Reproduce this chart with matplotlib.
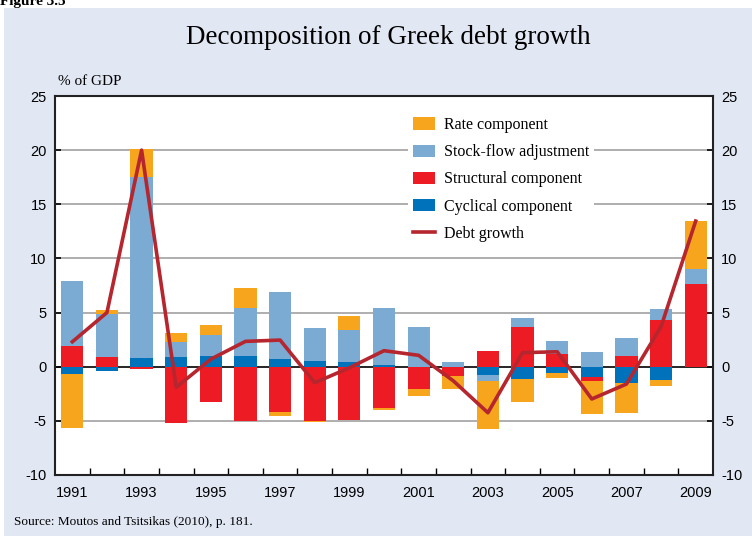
import numpy as np
import matplotlib.pyplot as plt
from matplotlib.patches import Rectangle, Patch
from matplotlib.lines import Line2D

plt.rcParams["axes.unicode_minus"] = False

# data (% of GDP)
years = list(range(1991, 2010))
cyclical = [-0.68, -0.37, 0.83, 0.90, 0.98, 0.98, 0.70, 0.52, 0.43, 0.12,
            0.0, 0.0, -0.77, -1.14, -0.58, -0.92, -1.48, -1.23, 0.0]
structural = [1.90, 0.90, -0.18, -5.17, -3.23, -5.00, -4.18, -5.00, -4.92, -3.78,
              -2.06, -0.86, 1.45, 3.66, 1.17, -0.37, 0.98, 4.30, 7.63]
stock_flow = [6.00, 3.96, 16.70, 1.40, 1.94, 4.43, 6.20, 3.05, 2.99, 5.30,
              3.66, 0.43, -0.55, 0.83, 1.20, 1.35, 1.66, 1.00, 1.39]
rate = [-4.95, 0.37, 2.60, 0.80, 0.93, 1.85, -0.37, -0.10, 1.26, -0.22,
        -0.65, -1.20, -4.40, -2.09, -0.44, -3.05, -2.77, -0.52, 4.43]
debt_growth = [2.3, 5.0, 20.0, -1.9, 0.7, 2.34, 2.46, -1.48, -0.1, 1.48,
               1.05, -1.3, -4.25, 1.3, 1.38, -2.98, -1.6, 3.7, 13.45]
year_labels = [str(y) for y in range(1991, 2010, 2)]

col_rate = "#F7A51C"
col_sf = "#7BAAD3"
col_struct = "#ED1C24"
col_cyc = "#0072BC"
col_debt = "#B5262E"

fig = plt.figure(figsize=(7.52, 5.36), dpi=100, facecolor="white")
# light blue panel behind the chart
fig.patches.append(Rectangle((4 / 752, 0), 1, 1 - 8 / 536, transform=fig.transFigure,
                             facecolor="#E1E8F4", edgecolor="none", zorder=-10))
fig.text(0.0, 1 - 5 / 536, "Figure 3.5", fontsize=11, fontweight="bold",
         family="Liberation Serif", va="baseline", ha="left")

ax = fig.add_axes([55 / 752, 1 - 475 / 536, (713 - 55) / 752, (475 - 96) / 536])
ax.set_facecolor("white")

# stack positives and negatives separately, from zero outward
x = np.array(years)
pos_base = np.zeros(len(years))
neg_base = np.zeros(len(years))
for vals, c in [(cyclical, col_cyc), (structural, col_struct),
                (stock_flow, col_sf), (rate, col_rate)]:
    v = np.array(vals)
    p = np.where(v > 0, v, 0)
    n = np.where(v < 0, v, 0)
    ax.bar(x, p, bottom=pos_base, width=0.64, color=c, zorder=3)
    ax.bar(x, n, bottom=neg_base, width=0.64, color=c, zorder=3)
    pos_base += p
    neg_base += n

ax.plot(x, debt_growth, color=col_debt, lw=2.6, zorder=4)

# grid and zero line
for g in [-5, 5, 10, 15, 20]:
    ax.axhline(g, color="#A8A8A8", lw=1.3, zorder=1)
ax.axhline(0, color="black", lw=1.2, zorder=2)

ax.set_xlim(1990.5, 2009.5)
ax.set_ylim(-10, 25)
ax.set_yticks(range(-10, 26, 5))
ax.set_xticks(range(1991, 2010, 2))
ax.set_xticklabels(year_labels)
ax.set_xticks(np.arange(1991.5, 2009.5, 1), minor=True)
ax.tick_params(axis="x", which="major", length=0, pad=8, labelsize=10.5)
ax.tick_params(axis="x", which="minor", direction="in", length=5, width=1, color="black")
ax.tick_params(axis="y", direction="in", length=4, width=1.2, left=True, right=True,
               labelleft=True, labelright=True, labelsize=10.5, pad=6)
for lbl in ax.get_xticklabels() + ax.get_yticklabels():
    lbl.set_family("Liberation Sans")
for s in ax.spines.values():
    s.set_linewidth(1.5)
    s.set_color("#222222")

ax.text(0.004, 1.02, "% of GDP", transform=ax.transAxes, fontsize=11,
        family="Liberation Serif", ha="left", va="bottom")

handles = [Patch(facecolor=col_rate), Patch(facecolor=col_sf),
           Patch(facecolor=col_struct), Patch(facecolor=col_cyc),
           Line2D([], [], color=col_debt, lw=2.6)]
labels = ["Rate component", "Stock-flow adjustment", "Structural component",
          "Cyclical component", "Debt growth"]
leg = ax.legend(handles, labels, loc="upper left", bbox_to_anchor=(0.524, 0.978),
                frameon=True, facecolor="white", edgecolor="none", fancybox=False,
                framealpha=1, prop={"family": "Liberation Serif", "size": 11.5},
                handlelength=1.4, handleheight=0.8, handletextpad=0.55,
                labelspacing=0.7, borderpad=0.3)
leg.set_zorder(5)

fig.text(388 / 752, 1 - 38 / 536, "Decomposition of Greek debt growth", ha="center",
         va="center", fontsize=19.5, family="Liberation Serif")
fig.text(14 / 752, 1 - 522 / 536, "Source: Moutos and Tsitsikas (2010), p. 181.",
         ha="left", va="center", fontsize=9.5, family="Liberation Serif")

fig.savefig("out.png", dpi=100, facecolor=fig.get_facecolor())
